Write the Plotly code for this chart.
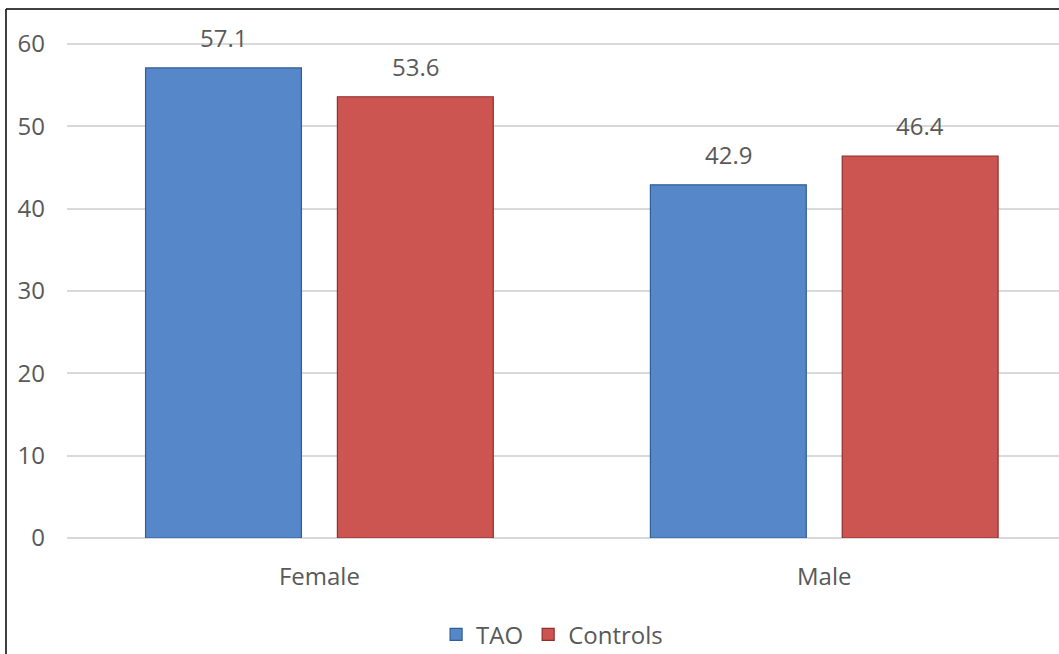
import plotly.graph_objects as go

# Share of each sex by group (%)
categories = ["Female", "Male"]
tao_values = [57.1, 42.9]
control_values = [53.6, 46.4]
series_names = ["TAO", "Controls"]
y_ticks = [0, 10, 20, 30, 40, 50, 60]

FONT = "'Open Sans', Lato, sans-serif"
TEXT_GRAY = "#595959"
FS = 24

fig = go.Figure()
fig.add_trace(go.Bar(
    x=categories, y=tao_values, name=series_names[0],
    marker=dict(color="#5687c8", line=dict(color="#2f5d95", width=1.2)),
))
fig.add_trace(go.Bar(
    x=categories, y=control_values, name=series_names[1],
    marker=dict(color="#cc5451", line=dict(color="#8f2e2b", width=1.2)),
))

# Value labels above each bar
for vals, offset in ((tao_values, -0.19), (control_values, 0.19)):
    for i, v in enumerate(vals):
        fig.add_annotation(
            x=i + offset, y=v, text=f"{v:.1f}", showarrow=False,
            yanchor="bottom", yshift=12,
            font=dict(family=FONT, size=FS, color=TEXT_GRAY),
        )

# Thin outer frame (left and top edges)
fig.add_shape(type="line", xref="paper", yref="paper",
              x0=-0.0615, x1=-0.0615, y0=-0.3, y1=1.0212,
              line=dict(color="black", width=1.5))
fig.add_shape(type="line", xref="paper", yref="paper",
              x0=-0.0615, x1=1.1, y0=1.0212, y1=1.0212,
              line=dict(color="black", width=1.5))

fig.update_layout(
    width=1059, height=654,
    margin=dict(l=67, r=0, t=20, b=116, autoexpand=False),
    paper_bgcolor="white", plot_bgcolor="white",
    barmode="group", bargap=0.24, bargroupgap=0.1875,
    font=dict(family=FONT, size=FS, color=TEXT_GRAY),
    showlegend=True,
    legend=dict(orientation="h", x=0.489, xanchor="center",
                y=-0.187, yanchor="middle",
                font=dict(family=FONT, size=FS, color=TEXT_GRAY),
                itemwidth=30, traceorder="normal"),
)
fig.update_xaxes(
    type="category", range=[-0.5, 1.465],
    showgrid=False, showline=False, ticks="",
    ticklabelstandoff=22, automargin=False,
    tickfont=dict(family=FONT, size=FS, color=TEXT_GRAY),
)
fig.update_yaxes(
    range=[0, 62.92], tickvals=y_ticks,
    showgrid=True, gridcolor="#d9d9d9", gridwidth=1.5,
    zeroline=True, zerolinecolor="#d9d9d9", zerolinewidth=1.5,
    showline=False, ticks="", ticklabelstandoff=21, automargin=False,
    tickfont=dict(family=FONT, size=FS, color=TEXT_GRAY),
)

fig.write_html("out.html")
